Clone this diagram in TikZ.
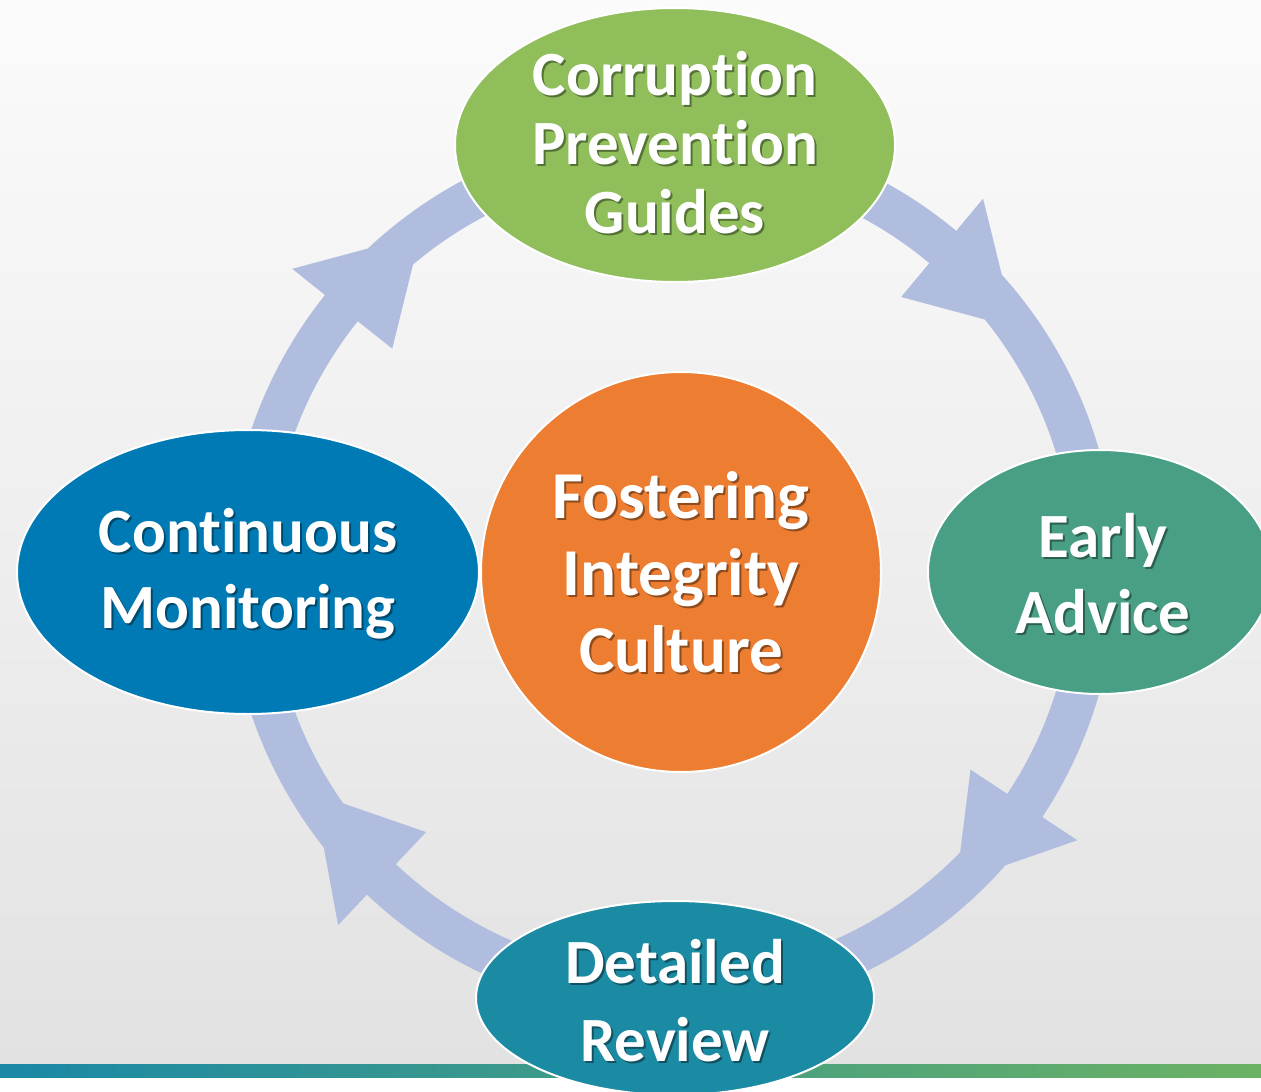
\documentclass[tikz,border=0pt]{standalone}
\usepackage{fontspec}
\setmainfont{Carlito}[Ligatures={NoCommon,NoDiscretionary,NoRare,NoContextual}]
\usetikzlibrary{shapes.geometric,calc}
\definecolor{ringc}{HTML}{B0BDDF}
\definecolor{bgtop}{HTML}{FBFBFB}
\definecolor{bgbot}{HTML}{E2E2E2}
\definecolor{stripL}{HTML}{1A88A6}
\definecolor{stripR}{HTML}{6CB264}
\definecolor{cgreen}{HTML}{8FBE5A}
\definecolor{cteal}{HTML}{489F85}
\definecolor{cblue}{HTML}{007AB5}
\definecolor{cpetrol}{HTML}{1B8AA3}
\definecolor{corange}{HTML}{ED7D31}
\tikzset{
  blob/.style={ellipse, draw=white, line width=2pt, inner sep=0pt},
  lbl/.style={text=white, align=center, inner sep=0pt, font=\bfseries\fontsize{63}{#1}\selectfont},
  lblshadow/.style={text=black, text opacity=0.4, align=center, inner sep=0pt, font=\bfseries\fontsize{63}{#1}\selectfont},
}
\begin{document}
\begin{tikzpicture}[x=1pt,y=-1pt]
\path[use as bounding box] (0,0) rectangle (1261,1092);
\clip (0,0) rectangle (1261,1092);
% background
\shade[top color=bgtop, bottom color=bgbot] (0,0) rectangle (1261,1064);
\fill[white] (0,1077) rectangle (1261,1092);
\shade[left color=stripL, right color=stripR] (0,1064) rectangle (1261,1077);
% ring
\coordinate (c) at (672,572);
\draw[ringc, line width=42pt] (c) circle[radius=423pt];
\foreach \t/\b in {35.5/50.2, -47.5/-33.5, 211.7/226.6, 126.7/141.4}{
  \fill[ringc] ($(c)+(\b:486pt)$) -- ($(c)+(\t:421pt)$) -- ($(c)+(\b:358pt)$) -- cycle;
}
% nodes
\node[blob, fill=cgreen, minimum width=440pt, minimum height=274pt] (cpg) at (675,145) {};
\node[blob, fill=cteal, minimum width=344pt, minimum height=244pt] (ea) at (1100,572) {};
\node[blob, fill=cpetrol, minimum width=398pt, minimum height=194pt] (dr) at (675,998) {};
\node[blob, fill=cblue, minimum width=462pt, minimum height=284pt] (cm) at (248,572) {};
\node[circle, draw=white, line width=2pt, fill=corange, minimum size=400pt, inner sep=0pt] (fic) at (681,572) {};
% labels
\node[lblshadow=69] at ($(cpg)+(2,0)$) {Corruption\\Prevention\\Guides};
\node[lbl=69] (cpg-t) at ($(cpg)+(0,-2)$) {Corruption\\Prevention\\Guides};
\node[lblshadow=76] at ($(ea)+(2+3,2+2)$) {Early\\Advice};
\node[lbl=76] (ea-t) at ($(ea)+(3,2)$) {Early\\Advice};
\node[lblshadow=78] at ($(dr)+(2,2+3)$) {Detailed\\Review};
\node[lbl=78] (dr-t) at ($(dr)+(0,3)$) {Detailed\\Review};
\node[lblshadow=76] at ($(cm)+(2,2+2)$) {Continuous\\Monitoring};
\node[lbl=76] (cm-t) at ($(cm)+(0,2)$) {Continuous\\Monitoring};
\node[lblshadow=77, font=\bfseries\fontsize{67}{77}\selectfont] at ($(fic)+(2,2)$) {Fostering\\Integrity\\Culture};
\node[lbl=77, font=\bfseries\fontsize{67}{77}\selectfont] (fic-t) at (fic) {Fostering\\Integrity\\Culture};
\end{tikzpicture}
\end{document}
